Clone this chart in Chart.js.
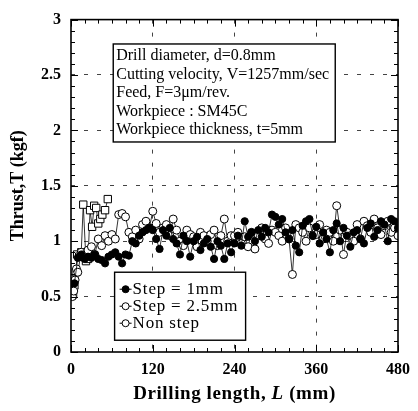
<!DOCTYPE html>
<html>
<head>
<meta charset="utf-8">
<script src="https://cdn.jsdelivr.net/npm/chart.js@4"></script>
<style>
html, body { margin: 0; padding: 0; background: #fff; }
</style>
</head>
<body>
<canvas id="thrust_chart" width="418" height="411"></canvas>
<script>
// drilling length (mm) and thrust (kgf) for each drilling mode
var lengthStep1 = [5, 10, 15, 20, 25, 30, 35, 40, 45, 50, 55, 60, 65, 70, 75, 80, 85, 90, 95, 100,
    105, 110, 115, 120, 125, 130, 135, 140, 145, 150, 155, 160, 165, 170, 175, 180, 185, 190, 195, 200,
    205, 210, 215, 220, 225, 230, 235, 240, 245, 250, 255, 260, 265, 270, 275, 280, 285, 290, 295, 300,
    305, 310, 315, 320, 325, 330, 335, 340, 345, 350, 355, 360, 365, 370, 375, 380, 385, 390, 395, 400,
    405, 410, 415, 420, 425, 430, 435, 440, 445, 450, 455, 460, 465, 470, 475, 480];
var thrustStep1 = [0.62, 0.85, 0.88, 0.84, 0.86, 0.85, 0.88, 0.84, 0.83, 0.80, 0.86, 0.88, 0.90, 0.86, 0.80, 0.88, 0.87, 1.00, 0.98, 1.05,
    1.08, 1.10, 1.12, 1.10, 1.02, 0.93, 1.10, 1.05, 1.12, 1.02, 0.98, 0.88, 1.05, 1.00, 0.86, 1.00, 1.04, 0.92, 0.98, 1.02,
    0.95, 0.84, 1.00, 0.96, 0.84, 0.98, 0.90, 0.98, 1.05, 0.96, 1.18, 1.04, 1.08, 1.00, 1.10, 1.04, 1.12, 1.08, 1.24, 1.22,
    1.15, 1.20, 1.08, 1.02, 1.10, 0.96, 0.90, 1.14, 1.18, 1.20, 1.05, 1.13, 0.98, 1.08, 1.02, 0.90, 1.10, 1.16, 1.00, 1.12,
    1.05, 0.95, 1.08, 1.10, 1.02, 0.98, 1.12, 1.16, 1.04, 1.10, 1.18, 1.15, 1.00, 1.20, 1.18, 1.12];

var lengthStep25 = [2, 4, 6, 8, 10, 15, 20, 25, 30, 35, 40, 45, 50, 55, 60, 65, 70, 75, 80, 85,
    90, 95, 100, 105, 110, 115, 120, 125, 130, 135, 140, 145, 150, 155, 160, 165, 170, 175, 180, 185,
    190, 195, 200, 205, 210, 215, 220, 225, 230, 235, 240, 245, 250, 255, 260, 265, 270, 275, 280, 285,
    290, 295, 300, 305, 310, 315, 320, 325, 330, 335, 340, 345, 350, 355, 360, 365, 370, 375, 380, 385,
    390, 395, 400, 405, 410, 415, 420, 425, 430, 435, 440, 445, 450, 455, 460, 465, 470, 475, 480];
var thrustStep25 = [0.50, 0.55, 0.65, 0.75, 0.72, 0.90, 0.88, 0.92, 0.95, 0.88, 1.02, 0.96, 1.05, 1.00, 1.06, 1.02, 1.24, 1.25, 1.22, 1.08,
    1.04, 1.10, 1.02, 1.15, 1.18, 1.12, 1.27, 1.16, 1.08, 1.12, 1.15, 1.05, 1.20, 1.10, 1.00, 0.96, 1.10, 1.06, 1.04, 0.95,
    1.08, 1.05, 1.00, 1.06, 1.10, 0.96, 1.05, 1.20, 1.00, 1.05, 1.05, 1.08, 0.98, 1.04, 0.95, 1.08, 0.93, 1.05, 1.12, 1.02,
    0.98, 1.10, 1.08, 1.05, 1.00, 1.12, 1.02, 0.70, 1.15, 1.12, 1.08, 1.00, 1.12, 1.05, 1.06, 1.15, 1.02, 1.10, 1.08, 1.00,
    1.32, 1.10, 0.88, 1.08, 1.05, 1.00, 1.15, 1.02, 1.18, 1.14, 1.08, 1.20, 1.12, 1.06, 1.14, 1.18, 1.08, 1.12, 1.05];

var lengthNonStep = [3, 5, 7, 9, 12, 15, 18, 22, 25, 28, 31, 34, 37, 40, 43, 46, 50, 54];
var thrustNonStep = [0.52, 0.60, 0.72, 0.88, 0.86, 0.90, 1.33, 0.82, 0.84, 1.28, 1.13, 1.32, 1.30, 1.16, 1.20, 1.24, 1.28, 1.38];

var xTicks = [0, 120, 240, 360, 480];
var yTicks = [0, 0.5, 1, 1.5, 2, 2.5, 3];

var seriesNames = ['Step = 1mm', 'Step = 2.5mm', 'Non step'];
var conditions = [
    'Drill diameter, d=0.8mm',
    'Cutting velocity, V=1257mm/sec',
    'Feed, F=3\u03bcm/rev.',
    'Workpiece : SM45C',
    'Workpiece thickness, t=5mm'
];

function pairs(xs, ys) {
    return xs.map(function (x, i) { return { x: x, y: ys[i] }; });
}

var SERIF = '"Liberation Serif", "DejaVu Serif", serif';

// marker drawing shared by the legend
function marker(ctx, fill, x, y) {
    ctx.beginPath();
    ctx.arc(x, y, 3.5, 0, Math.PI * 2);
    ctx.fillStyle = fill;
    ctx.fill();
    ctx.lineWidth = 1;
    ctx.strokeStyle = '#000';
    ctx.stroke();
}

// frame with inward major / minor ticks on all four sides
var frameTicks = {
    id: 'frameTicks',
    afterDraw: function (chart) {
        var ctx = chart.ctx, a = chart.chartArea;
        var sx = chart.scales.x, sy = chart.scales.y;
        ctx.save();
        ctx.strokeStyle = '#000';
        ctx.lineWidth = 1;
        for (var v = 0; v <= 480; v += 20) {
            var len = v % 120 === 0 ? 7 : 4;
            var px = Math.round(sx.getPixelForValue(v)) + 0.5;
            ctx.beginPath();
            ctx.moveTo(px, a.bottom); ctx.lineTo(px, a.bottom - len);
            ctx.moveTo(px, a.top); ctx.lineTo(px, a.top + len);
            ctx.stroke();
        }
        for (var k = 0; k <= 30; k++) {
            var lenY = k % 5 === 0 ? 7 : 4;
            var py = Math.round(sy.getPixelForValue(k / 10)) + 0.5;
            ctx.beginPath();
            ctx.moveTo(a.left, py); ctx.lineTo(a.left + lenY, py);
            ctx.moveTo(a.right, py); ctx.lineTo(a.right - lenY, py);
            ctx.stroke();
        }
        ctx.lineWidth = 1.6;
        ctx.strokeRect(a.left, a.top, a.right - a.left, a.bottom - a.top);

        // x axis title with italic L
        ctx.fillStyle = '#000';
        ctx.textBaseline = 'middle';
        ctx.letterSpacing = '0.6px';
        var parts = [['Drilling length, ', 'bold 19px ' + SERIF], ['L', 'bold italic 19px ' + SERIF], [' (mm)', 'bold 19px ' + SERIF]];
        var total = 0;
        parts.forEach(function (p) { ctx.font = p[1]; total += ctx.measureText(p[0]).width; });
        var tx = (a.left + a.right) / 2 - total / 2;
        parts.forEach(function (p) {
            ctx.font = p[1];
            ctx.textAlign = 'left';
            ctx.fillText(p[0], tx, 394);
            tx += ctx.measureText(p[0]).width;
        });
        ctx.restore();
    }
};

// cutting conditions box and series key
var boxes = {
    id: 'boxes',
    afterDatasetsDraw: function (chart) {
        var ctx = chart.ctx;
        var sx = chart.scales.x, sy = chart.scales.y;
        ctx.save();

        // conditions box, anchored in data units
        var bx = sx.getPixelForValue(62), by = sy.getPixelForValue(2.78);
        var bw = 222, bh = 98;
        ctx.fillStyle = '#fff';
        ctx.fillRect(bx, by, bw, bh);
        ctx.lineWidth = 1.4;
        ctx.strokeStyle = '#000';
        ctx.strokeRect(bx, by, bw, bh);
        ctx.fillStyle = '#000';
        ctx.font = '16px ' + SERIF;
        ctx.textAlign = 'left';
        ctx.textBaseline = 'middle';
        conditions.forEach(function (t, i) {
            ctx.fillText(t, bx + 3, by + 12 + i * 18.5);
        });

        // legend box
        var lx = sx.getPixelForValue(64), ly = sy.getPixelForValue(0.72);
        var lw = 131, lh = 68;
        ctx.fillStyle = '#fff';
        ctx.fillRect(lx, ly, lw, lh);
        ctx.lineWidth = 1.4;
        ctx.strokeRect(lx, ly, lw, lh);
        chart.data.datasets.forEach(function (ds, i) {
            var yy = ly + 17 + i * 17;
            ctx.beginPath();
            ctx.lineWidth = 1;
            ctx.moveTo(lx + 5, yy); ctx.lineTo(lx + 17, yy);
            ctx.stroke();
            marker(ctx, ds.pointBackgroundColor, lx + 11, yy);
            ctx.fillStyle = '#000';
            ctx.font = '17px ' + SERIF;
            ctx.letterSpacing = '0.8px';
            ctx.fillText(ds.label, lx + 18, yy);
            ctx.letterSpacing = '0px';
        });
        ctx.restore();
    }
};

var CHART = document.getElementById('thrust_chart').getContext('2d');
var thrust_chart = new Chart(CHART, {
    type: 'line',
    data: {
        datasets: [{
                label: seriesNames[0],
                data: pairs(lengthStep1, thrustStep1),
                borderColor: '#000',
                borderWidth: 0.8,
                pointStyle: 'circle',
                pointRadius: 3.6,
                pointBackgroundColor: '#000',
                pointBorderColor: '#000',
                pointBorderWidth: 1
            },
            {
                label: seriesNames[1],
                data: pairs(lengthStep25, thrustStep25),
                borderColor: '#000',
                borderWidth: 0.8,
                pointStyle: 'circle',
                pointRadius: 4,
                pointBackgroundColor: '#fff',
                pointBorderColor: '#000',
                pointBorderWidth: 1
            },
            {
                label: seriesNames[2],
                data: pairs(lengthNonStep, thrustNonStep),
                borderColor: '#000',
                borderWidth: 0.8,
                pointStyle: 'rect',
                pointRadius: 5.2,
                pointBackgroundColor: '#fff',
                pointBorderColor: '#000',
                pointBorderWidth: 1
            }
        ]
    },
    options: {
        responsive: false,
        animation: false,
        layout: { padding: { top: 16, right: 12, left: 0, bottom: 0 } },
        plugins: { legend: { display: false }, tooltip: { enabled: false } },
        scales: {
            x: {
                type: 'linear',
                min: 0,
                max: 480,
                afterFit: function (s) { s.height = 59; },
                afterBuildTicks: function (s) { s.ticks = xTicks.map(function (v) { return { value: v }; }); },
                ticks: {
                    padding: 8,
                    color: '#000',
                    font: { family: SERIF, size: 16, weight: 'bold' },
                    callback: function (v) { return String(v); }
                },
                grid: {
                    drawTicks: false,
                    lineWidth: 1,
                    color: function (c) { return (c.tick && (c.tick.value === 0 || c.tick.value === 480)) ? 'rgba(0,0,0,0)' : '#444'; }
                },
                border: { display: false, dash: [4, 9] }
            },
            y: {
                min: 0,
                max: 3,
                afterFit: function (s) { s.width = 71; },
                afterBuildTicks: function (s) { s.ticks = yTicks.map(function (v) { return { value: v }; }); },
                ticks: {
                    padding: 10,
                    color: '#000',
                    font: { family: SERIF, size: 16, weight: 'bold' },
                    callback: function (v) { return String(v); }
                },
                title: {
                    display: true,
                    text: 'Thrust,T (kgf)',
                    color: '#000',
                    padding: { top: 8, bottom: 0 },
                    font: { family: SERIF, size: 18, weight: 'bold' }
                },
                grid: {
                    drawTicks: false,
                    lineWidth: 1,
                    color: function (c) { return (c.tick && (c.tick.value === 0 || c.tick.value === 3)) ? 'rgba(0,0,0,0)' : '#444'; }
                },
                border: { display: false, dash: [4, 9] }
            }
        }
    },
    plugins: [frameTicks, boxes]
});
</script>
</body>
</html>
